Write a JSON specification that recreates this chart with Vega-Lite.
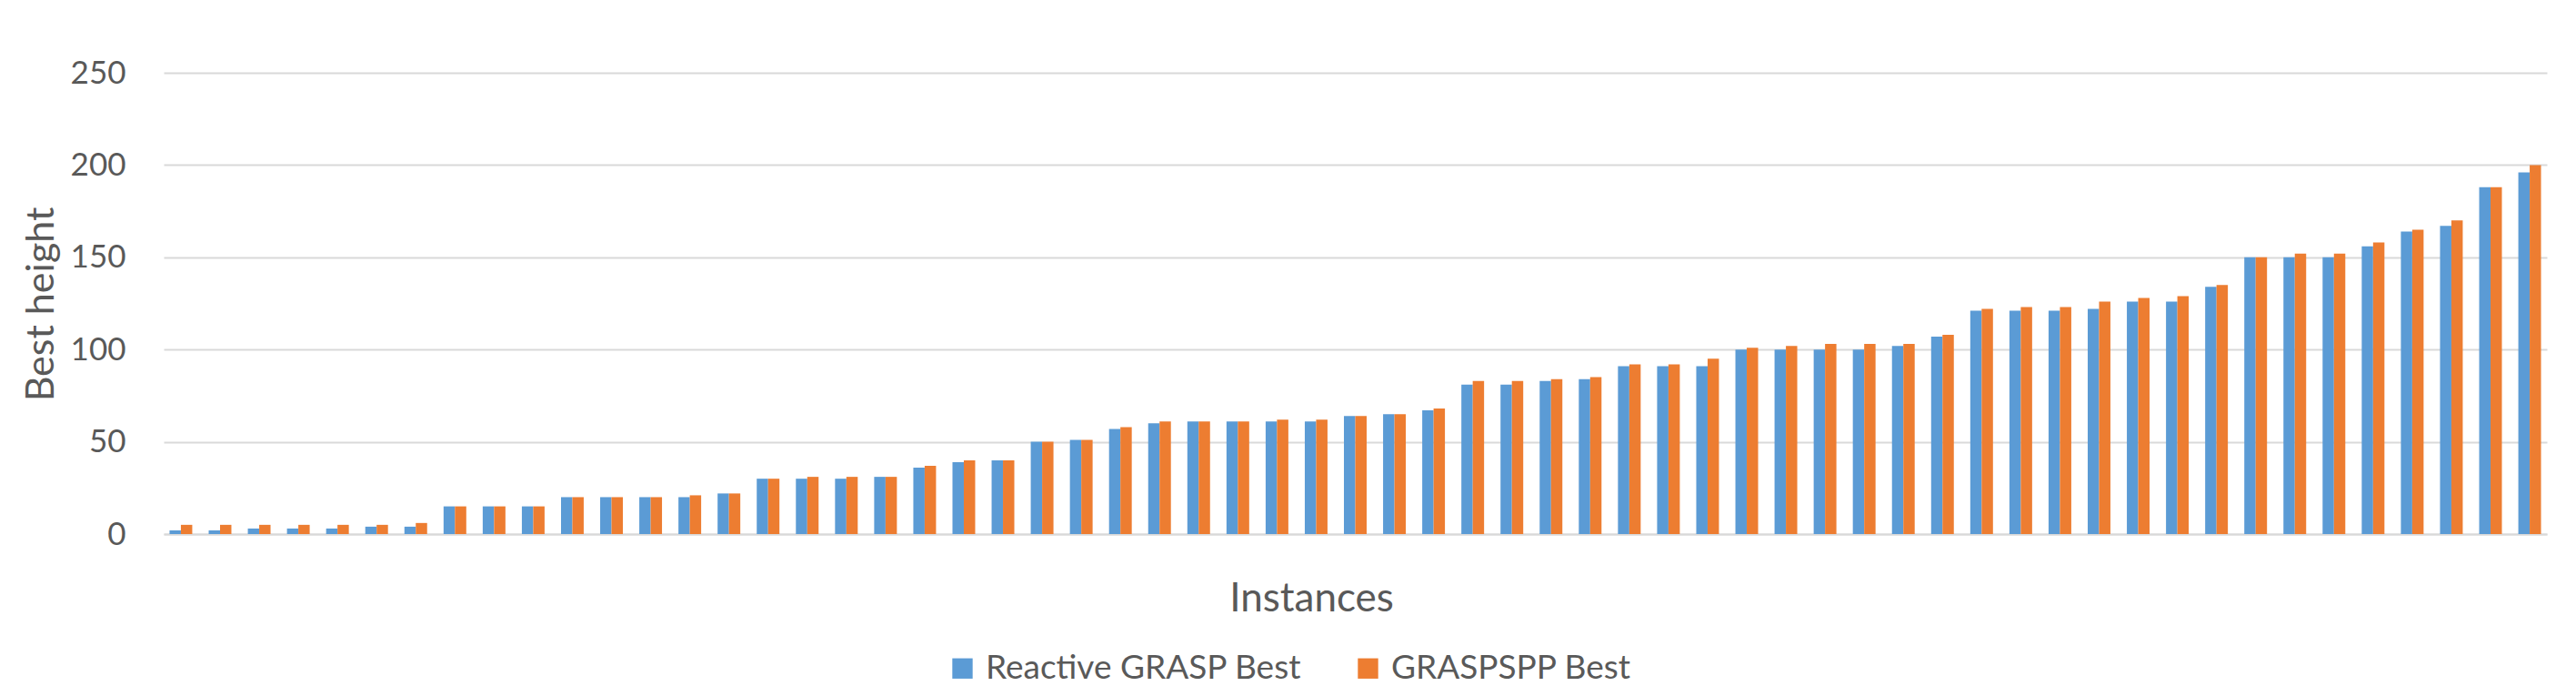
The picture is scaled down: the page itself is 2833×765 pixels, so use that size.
{
  "$schema": "https://vega.github.io/schema/vega-lite/v6.json",
  "width": 2621,
  "height": 507,
  "autosize": "none",
  "padding": {"left": 180, "top": 80, "right": 32, "bottom": 178},
  "background": "white",
  "config": {"font": "Lato", "view": {"stroke": null}},
  "data": {
    "values": [
      {"instance": 1, "Reactive GRASP Best": 2, "GRASPSPP Best": 5},
      {"instance": 2, "Reactive GRASP Best": 2, "GRASPSPP Best": 5},
      {"instance": 3, "Reactive GRASP Best": 3, "GRASPSPP Best": 5},
      {"instance": 4, "Reactive GRASP Best": 3, "GRASPSPP Best": 5},
      {"instance": 5, "Reactive GRASP Best": 3, "GRASPSPP Best": 5},
      {"instance": 6, "Reactive GRASP Best": 4, "GRASPSPP Best": 5},
      {"instance": 7, "Reactive GRASP Best": 4, "GRASPSPP Best": 6},
      {"instance": 8, "Reactive GRASP Best": 15, "GRASPSPP Best": 15},
      {"instance": 9, "Reactive GRASP Best": 15, "GRASPSPP Best": 15},
      {"instance": 10, "Reactive GRASP Best": 15, "GRASPSPP Best": 15},
      {"instance": 11, "Reactive GRASP Best": 20, "GRASPSPP Best": 20},
      {"instance": 12, "Reactive GRASP Best": 20, "GRASPSPP Best": 20},
      {"instance": 13, "Reactive GRASP Best": 20, "GRASPSPP Best": 20},
      {"instance": 14, "Reactive GRASP Best": 20, "GRASPSPP Best": 21},
      {"instance": 15, "Reactive GRASP Best": 22, "GRASPSPP Best": 22},
      {"instance": 16, "Reactive GRASP Best": 30, "GRASPSPP Best": 30},
      {"instance": 17, "Reactive GRASP Best": 30, "GRASPSPP Best": 31},
      {"instance": 18, "Reactive GRASP Best": 30, "GRASPSPP Best": 31},
      {"instance": 19, "Reactive GRASP Best": 31, "GRASPSPP Best": 31},
      {"instance": 20, "Reactive GRASP Best": 36, "GRASPSPP Best": 37},
      {"instance": 21, "Reactive GRASP Best": 39, "GRASPSPP Best": 40},
      {"instance": 22, "Reactive GRASP Best": 40, "GRASPSPP Best": 40},
      {"instance": 23, "Reactive GRASP Best": 50, "GRASPSPP Best": 50},
      {"instance": 24, "Reactive GRASP Best": 51, "GRASPSPP Best": 51},
      {"instance": 25, "Reactive GRASP Best": 57, "GRASPSPP Best": 58},
      {"instance": 26, "Reactive GRASP Best": 60, "GRASPSPP Best": 61},
      {"instance": 27, "Reactive GRASP Best": 61, "GRASPSPP Best": 61},
      {"instance": 28, "Reactive GRASP Best": 61, "GRASPSPP Best": 61},
      {"instance": 29, "Reactive GRASP Best": 61, "GRASPSPP Best": 62},
      {"instance": 30, "Reactive GRASP Best": 61, "GRASPSPP Best": 62},
      {"instance": 31, "Reactive GRASP Best": 64, "GRASPSPP Best": 64},
      {"instance": 32, "Reactive GRASP Best": 65, "GRASPSPP Best": 65},
      {"instance": 33, "Reactive GRASP Best": 67, "GRASPSPP Best": 68},
      {"instance": 34, "Reactive GRASP Best": 81, "GRASPSPP Best": 83},
      {"instance": 35, "Reactive GRASP Best": 81, "GRASPSPP Best": 83},
      {"instance": 36, "Reactive GRASP Best": 83, "GRASPSPP Best": 84},
      {"instance": 37, "Reactive GRASP Best": 84, "GRASPSPP Best": 85},
      {"instance": 38, "Reactive GRASP Best": 91, "GRASPSPP Best": 92},
      {"instance": 39, "Reactive GRASP Best": 91, "GRASPSPP Best": 92},
      {"instance": 40, "Reactive GRASP Best": 91, "GRASPSPP Best": 95},
      {"instance": 41, "Reactive GRASP Best": 100, "GRASPSPP Best": 101},
      {"instance": 42, "Reactive GRASP Best": 100, "GRASPSPP Best": 102},
      {"instance": 43, "Reactive GRASP Best": 100, "GRASPSPP Best": 103},
      {"instance": 44, "Reactive GRASP Best": 100, "GRASPSPP Best": 103},
      {"instance": 45, "Reactive GRASP Best": 102, "GRASPSPP Best": 103},
      {"instance": 46, "Reactive GRASP Best": 107, "GRASPSPP Best": 108},
      {"instance": 47, "Reactive GRASP Best": 121, "GRASPSPP Best": 122},
      {"instance": 48, "Reactive GRASP Best": 121, "GRASPSPP Best": 123},
      {"instance": 49, "Reactive GRASP Best": 121, "GRASPSPP Best": 123},
      {"instance": 50, "Reactive GRASP Best": 122, "GRASPSPP Best": 126},
      {"instance": 51, "Reactive GRASP Best": 126, "GRASPSPP Best": 128},
      {"instance": 52, "Reactive GRASP Best": 126, "GRASPSPP Best": 129},
      {"instance": 53, "Reactive GRASP Best": 134, "GRASPSPP Best": 135},
      {"instance": 54, "Reactive GRASP Best": 150, "GRASPSPP Best": 150},
      {"instance": 55, "Reactive GRASP Best": 150, "GRASPSPP Best": 152},
      {"instance": 56, "Reactive GRASP Best": 150, "GRASPSPP Best": 152},
      {"instance": 57, "Reactive GRASP Best": 156, "GRASPSPP Best": 158},
      {"instance": 58, "Reactive GRASP Best": 164, "GRASPSPP Best": 165},
      {"instance": 59, "Reactive GRASP Best": 167, "GRASPSPP Best": 170},
      {"instance": 60, "Reactive GRASP Best": 188, "GRASPSPP Best": 188},
      {"instance": 61, "Reactive GRASP Best": 196, "GRASPSPP Best": 200}
    ]
  },
  "transform": [
    {"fold": ["Reactive GRASP Best", "GRASPSPP Best"], "as": ["series", "value"]}
  ],
  "mark": {"type": "bar"},
  "encoding": {
    "x": {
      "field": "instance",
      "type": "ordinal",
      "scale": {"paddingInner": 0.42, "paddingOuter": 0.15},
      "axis": {
        "labels": false,
        "ticks": false,
        "domainColor": "#D9D9D9",
        "domainWidth": 2,
        "title": "Instances",
        "titleFontSize": 44,
        "titleFontWeight": "normal",
        "titleColor": "#595959",
        "titleX": 1262,
        "titleY": 71,
        "titleBaseline": "middle"
      }
    },
    "xOffset": {"field": "series", "type": "nominal", "sort": ["Reactive GRASP Best", "GRASPSPP Best"]},
    "y": {
      "field": "value",
      "type": "quantitative",
      "scale": {"domain": [0, 250]},
      "axis": {
        "values": [0, 50, 100, 150, 200, 250],
        "grid": true,
        "gridColor": "#D9D9D9",
        "gridWidth": 2,
        "domain": false,
        "ticks": false,
        "labelFontSize": 35,
        "labelColor": "#595959",
        "labelPadding": 42,
        "title": "Best height",
        "titleFontSize": 43,
        "titleFontWeight": "normal",
        "titleColor": "#595959",
        "titleX": -135,
        "titleY": 254,
        "titleBaseline": "middle"
      }
    },
    "color": {
      "field": "series",
      "type": "nominal",
      "scale": {"domain": ["Reactive GRASP Best", "GRASPSPP Best"], "range": ["#5B9BD5", "#ED7D31"]},
      "legend": {
        "orient": "none",
        "legendX": 860,
        "legendY": 636,
        "direction": "horizontal",
        "title": null,
        "symbolType": "square",
        "symbolSize": 500,
        "symbolStrokeWidth": 0,
        "labelFontSize": 37,
        "labelColor": "#595959",
        "labelOffset": 7,
        "labelLimit": 0,
        "columnPadding": 54
      }
    }
  }
}
